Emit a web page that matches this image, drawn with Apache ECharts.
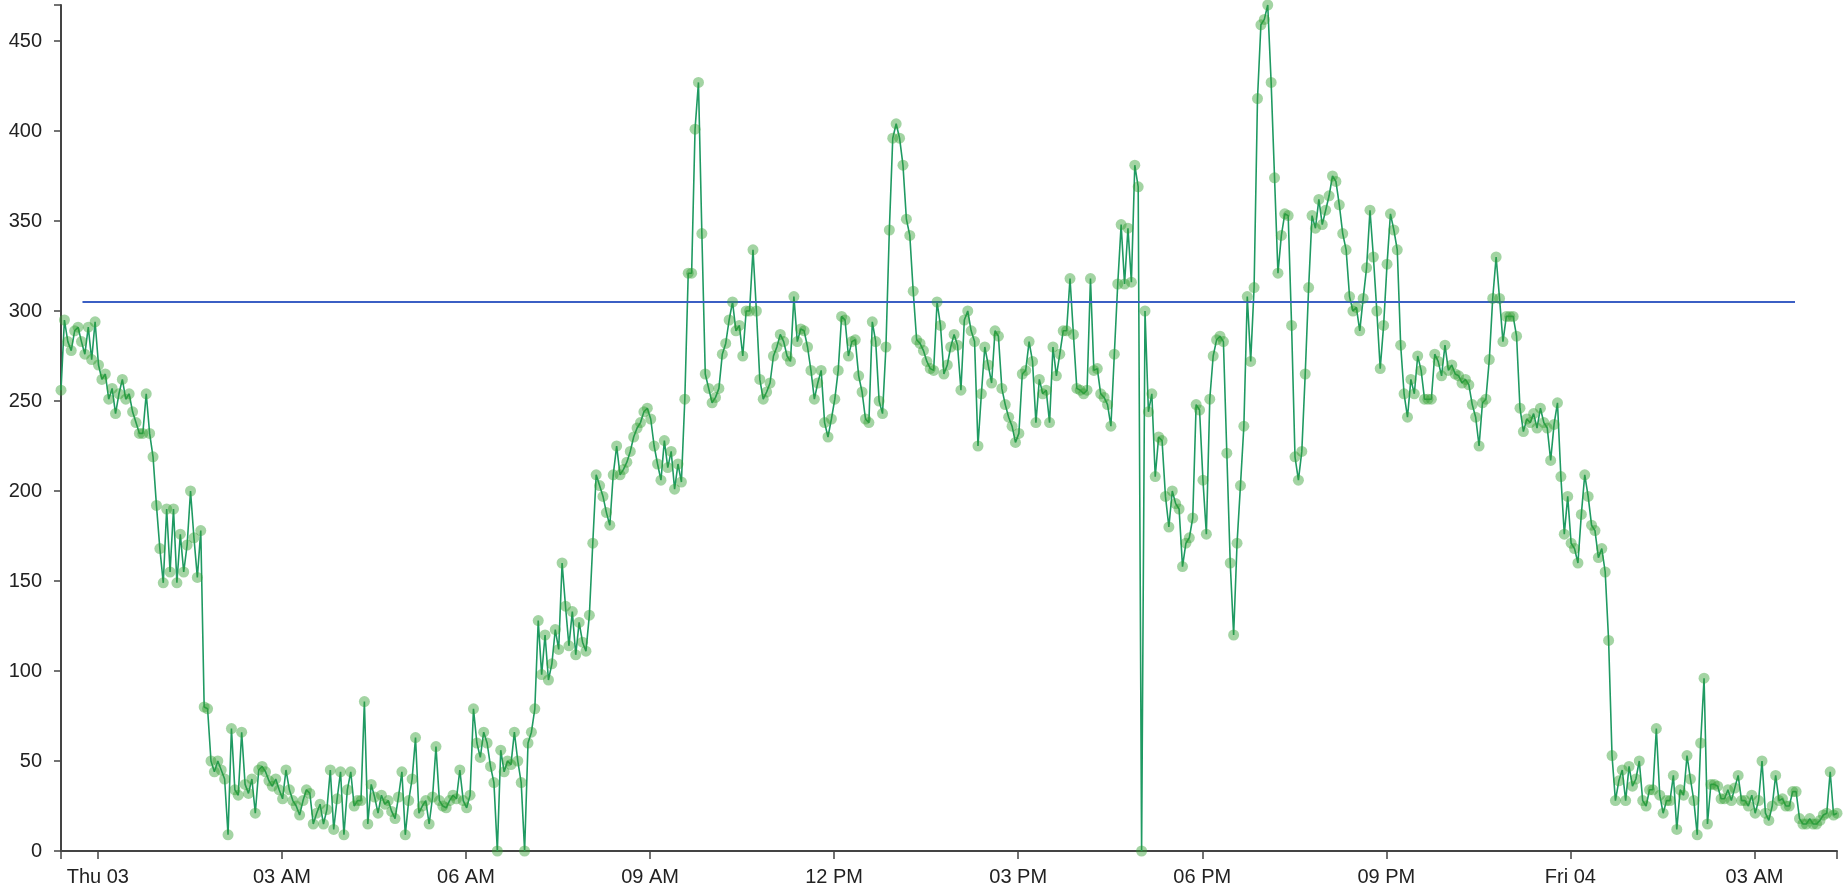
<!DOCTYPE html>
<html>
<head>
<meta charset="utf-8">
<title>Values over a day</title>
<script src="https://cdn.jsdelivr.net/npm/echarts@6/dist/echarts.min.js"></script>
<style>
  html, body { margin: 0; padding: 0; background: #fff; }
  #chart { width: 1847px; height: 896px; }
</style>
</head>
<body>
<div id="chart"></div>
<script>
// hours relative to Thu 03 00:00, one reading every 200 s
const startHour = -0.6;
const stepHours = 1 / 18;

const values = [
  256, 295, 283, 278, 289, 291, 283, 276, 291, 273, 294, 270, 262, 265, 251, 257, 243, 254, 262, 251,
  254, 244, 238, 232, 232, 254, 232, 219, 192, 168, 149, 190, 155, 190, 149, 176, 155, 170, 200, 174,
  152, 178, 80, 79, 50, 44, 50, 45, 40, 9, 68, 34, 31, 66, 37, 32, 40, 21, 45, 47,
  44, 39, 36, 40, 34, 29, 45, 34, 28, 25, 20, 28, 34, 32, 15, 21, 26, 15, 23, 45,
  12, 29, 44, 9, 34, 44, 25, 28, 28, 83, 15, 37, 30, 21, 31, 26, 28, 22, 18, 30,
  44, 9, 28, 40, 63, 21, 25, 28, 15, 30, 58, 28, 25, 24, 28, 31, 29, 45, 28, 24,
  31, 79, 60, 52, 66, 60, 47, 38, 0, 56, 44, 50, 48, 66, 50, 38, 0, 60, 66, 79,
  128, 98, 120, 95, 104, 123, 112, 160, 136, 114, 133, 109, 127, 116, 111, 131, 171, 209, 203, 197,
  188, 181, 209, 225, 209, 212, 216, 222, 230, 235, 238, 244, 246, 240, 225, 215, 206, 228, 213, 222,
  201, 215, 205, 251, 321, 321, 401, 427, 343, 265, 257, 249, 252, 257, 276, 282, 295, 305, 289, 292,
  275, 300, 300, 334, 300, 262, 251, 255, 260, 275, 280, 287, 283, 275, 272, 308, 283, 290, 289, 280,
  267, 251, 260, 267, 238, 230, 240, 251, 267, 297, 295, 275, 283, 284, 264, 255, 240, 238, 294, 283,
  250, 243, 280, 345, 396, 404, 396, 381, 351, 342, 311, 284, 282, 278, 272, 268, 267, 305, 292, 265,
  270, 280, 287, 281, 256, 295, 300, 289, 283, 225, 254, 280, 270, 260, 289, 286, 257, 248, 241, 236,
  227, 232, 265, 267, 283, 272, 238, 262, 254, 256, 238, 280, 264, 276, 289, 289, 318, 287, 257, 256,
  254, 256, 318, 267, 268, 254, 252, 248, 236, 276, 315, 348, 315, 346, 316, 381, 369, 0, 300, 244,
  254, 208, 230, 228, 197, 180, 200, 193, 190, 158, 171, 174, 185, 248, 245, 206, 176, 251, 275, 284,
  286, 283, 221, 160, 120, 171, 203, 236, 308, 272, 313, 418, 459, 462, 470, 427, 374, 321, 342, 354,
  353, 292, 219, 206, 222, 265, 313, 353, 346, 362, 348, 356, 364, 375, 372, 359, 343, 334, 308, 300,
  302, 289, 307, 324, 356, 330, 300, 268, 292, 326, 354, 345, 334, 281, 254, 241, 262, 254, 275, 267,
  251, 251, 251, 276, 272, 264, 281, 267, 270, 265, 264, 260, 262, 259, 248, 241, 225, 249, 251, 273,
  307, 330, 307, 283, 297, 297, 297, 286, 246, 233, 240, 238, 243, 235, 246, 238, 235, 217, 237, 249,
  208, 176, 197, 171, 168, 160, 187, 209, 197, 181, 178, 163, 168, 155, 117, 53, 28, 39, 45, 28,
  47, 36, 40, 50, 28, 25, 34, 34, 68, 31, 21, 28, 28, 42, 12, 34, 31, 53, 40, 28,
  9, 60, 96, 15, 37, 37, 36, 29, 29, 34, 28, 35, 42, 28, 28, 25, 31, 21, 28, 50,
  21, 17, 25, 42, 28, 29, 25, 25, 33, 33, 18, 15, 15, 18, 15, 15, 17, 20, 21, 44,
  20, 21
];

// horizontal reference line
const refLineHours = [-0.25, 27.66];
const refLineValue = 305;

const xTickHours = [0, 3, 6, 9, 12, 15, 18, 21, 24, 27];
const xTickLabels = ['Thu 03', '03 AM', '06 AM', '09 AM', '12 PM', '03 PM', '06 PM', '09 PM', 'Fri 04', '03 AM'];
const yTickValues = [0, 50, 100, 150, 200, 250, 300, 350, 400, 450];

const xMin = startHour;
const xMax = startHour + (values.length - 1) * stepHours;
const yMax = Math.max(...values);

const points = values.map((v, i) => [startHour + i * stepHours, v]);
const refPoints = refLineHours.map((h) => [h, refLineValue]);

const axisColor = '#444';
const font = { fontFamily: 'Liberation Sans, Arial, sans-serif', fontSize: 20, color: '#222' };

const chart = echarts.init(document.getElementById('chart'));
chart.setOption({
  animation: false,
  grid: {
    left: 61,
    right: 10,
    top: 5,
    bottom: 45,
    outerBoundsMode: 'none',
  },
  xAxis: {
    type: 'value',
    min: xMin,
    max: xMax,
    splitLine: { show: false },
    axisLine: { show: true, onZero: false, lineStyle: { color: axisColor, width: 2 } },
    axisTick: {
      show: true,
      length: 8,
      customValues: [xMin, ...xTickHours, xMax],
      lineStyle: { color: axisColor, width: 1.5 },
    },
    axisLabel: {
      ...font,
      margin: 16,
      customValues: xTickHours,
      formatter(value) {
        const idx = xTickHours.indexOf(Math.round(value));
        return idx >= 0 ? xTickLabels[idx] : '';
      },
    },
  },
  yAxis: {
    type: 'value',
    min: 0,
    max: yMax,
    splitLine: { show: false },
    axisLine: { show: true, onZero: false, lineStyle: { color: axisColor, width: 2 } },
    axisTick: {
      show: true,
      length: 7,
      customValues: [...yTickValues, yMax],
      lineStyle: { color: axisColor, width: 1.5 },
    },
    axisLabel: {
      ...font,
      margin: 19,
      customValues: yTickValues,
    },
  },
  series: [
    {
      type: 'line',
      data: points,
      symbol: 'circle',
      symbolSize: 11,
      showAllSymbol: true,
      lineStyle: { color: '#1f9a62', width: 1.6 },
      itemStyle: { color: 'rgba(50, 160, 50, 0.45)' },
      emphasis: { disabled: true },
    },
    {
      type: 'line',
      data: refPoints,
      symbol: 'none',
      lineStyle: { color: '#3b5fc4', width: 2 },
    },
  ],
});
</script>
</body>
</html>
